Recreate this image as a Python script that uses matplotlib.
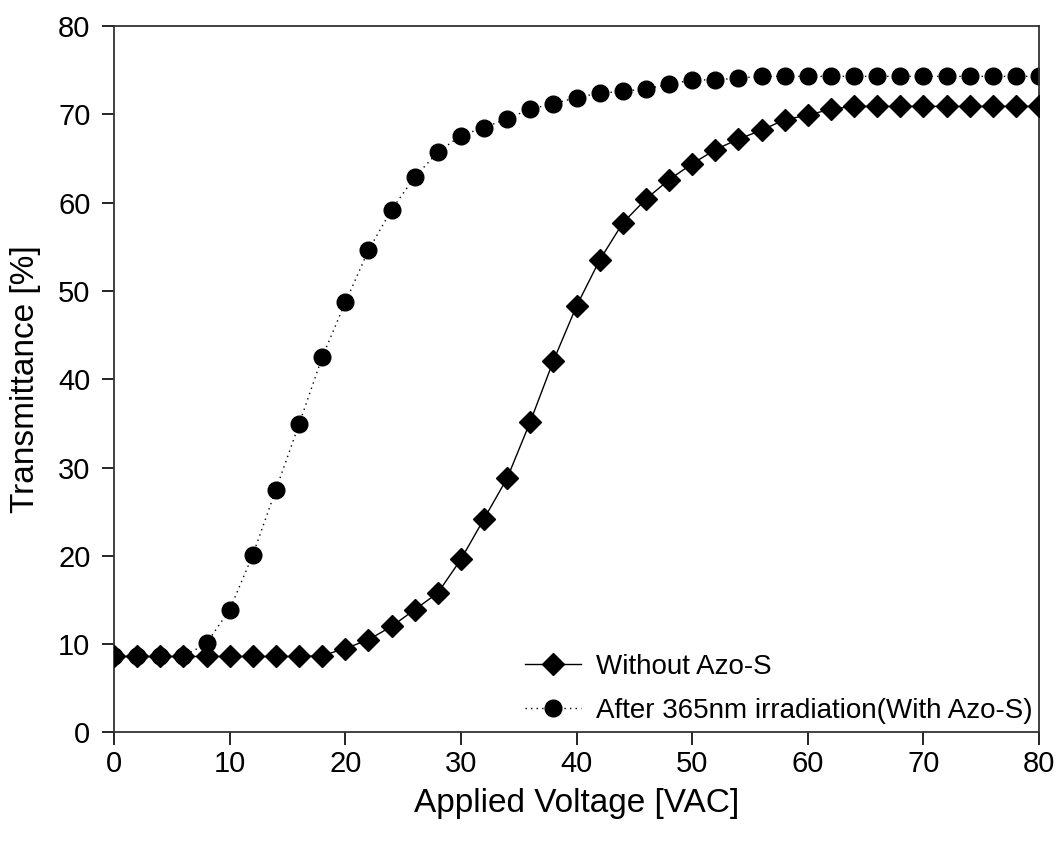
import numpy as np
import matplotlib
matplotlib.use("Agg")
import matplotlib.pyplot as plt

# Applied voltage steps (VAC)
voltage = list(range(0, 82, 2))

# Transmittance [%] without Azo-S (diamonds, solid line)
without_azo = [8.6, 8.6, 8.6, 8.6, 8.6, 8.6, 8.6, 8.6, 8.6, 8.7,
               9.5, 10.5, 12.0, 13.9, 15.8, 19.6, 24.2, 28.8, 35.2, 42.1,
               48.3, 53.5, 57.7, 60.4, 62.6, 64.4, 66.0, 67.2, 68.2, 69.4,
               69.9, 70.6, 70.9, 70.9, 70.9, 70.9, 70.9, 70.9, 70.9, 70.9,
               70.9]

# Transmittance [%] after 365nm irradiation (with Azo-S), circles, dotted
with_azo = [8.6, 8.6, 8.6, 8.6, 10.1, 13.9, 20.1, 27.5, 34.9, 42.5,
            48.7, 54.6, 59.2, 62.9, 65.7, 67.6, 68.5, 69.5, 70.6, 71.2,
            71.9, 72.4, 72.6, 72.9, 73.4, 73.9, 73.9, 74.1, 74.3, 74.3,
            74.3, 74.3, 74.3, 74.3, 74.3, 74.3, 74.3, 74.3, 74.3, 74.3,
            74.3]

labels = ["Without Azo-S", "After 365nm irradiation(With Azo-S)"]

plt.rcParams['font.family'] = ['Liberation Sans', 'DejaVu Sans']

fig = plt.figure(figsize=(10.56, 8.48), dpi=100)
ax = fig.add_axes([0.108, 0.1363, 0.876, 0.8330])

ax.plot(voltage, without_azo, color='black', linestyle='-', linewidth=1,
        marker='D', markersize=11, label=labels[0], zorder=3)
ax.plot(voltage, with_azo, color='black', linestyle=(0, (1, 3)), linewidth=1,
        marker='o', markersize=12, label=labels[1], zorder=2)

ax.set_xlim(0, 80)
ax.set_ylim(0, 80)
ax.set_xticks(np.arange(0, 81, 10))
ax.set_yticks(np.arange(0, 81, 10))
ax.tick_params(direction='out', length=9, width=1.2, labelsize=21)
ax.tick_params(axis='x', pad=4)
ax.tick_params(axis='y', pad=8)
for s in ax.spines.values():
    s.set_linewidth(1.3)
    s.set_color('#333333')

ax.set_xlabel("Applied Voltage [VAC]", fontsize=24, labelpad=7)
ax.set_ylabel("Transmittance [%]", fontsize=24, labelpad=12)

ax.legend(loc='lower right', bbox_to_anchor=(1.005, -0.004), frameon=False,
          fontsize=20, handlelength=2.0, handletextpad=0.55, labelspacing=0.65,
          borderaxespad=0.0)

fig.savefig("out.png", dpi=100)
